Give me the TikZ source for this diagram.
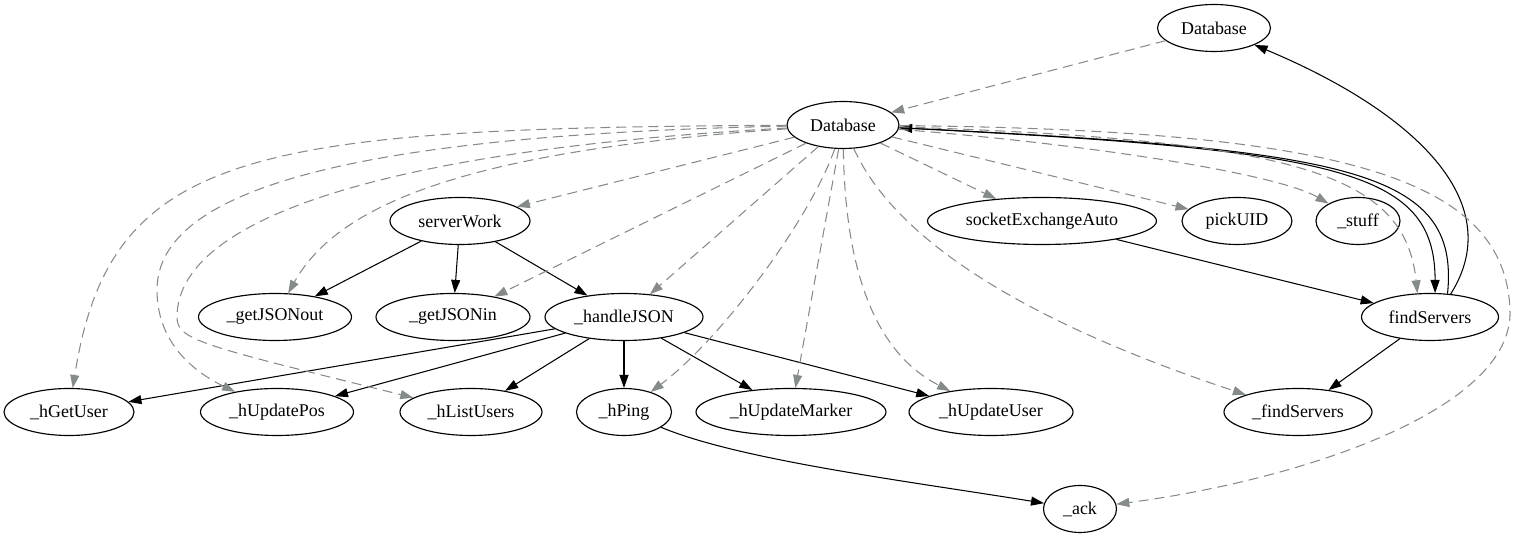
\documentclass[tikz,border=0pt]{standalone}
\usepackage{fontspec}
\setmainfont{Liberation Serif}
\usetikzlibrary{arrows.meta,shapes.geometric}
\definecolor{depgray}{HTML}{858B8B}

\begin{document}
\begin{tikzpicture}[>={Triangle[length=0.26cm,width=0.18cm]},
  font=\fontsize{10.2}{12}\selectfont,
  fn/.style={draw, ellipse, line width=0.65pt, inner sep=0pt,
    minimum height=0.94cm, minimum width=#1},
  call/.style={->, line width=0.6pt},
  dep/.style={->, line width=0.6pt, depgray, dash pattern=on 0.2cm off 0.12cm}]

  \useasboundingbox (0,0) rectangle (30.38,-10.78);

  % ---- databases ----
  \node[fn=2.26cm] (dbtop) at (24.28,-0.56) {Database};
  \node[fn=2.24cm] (db) at (16.86,-2.50) {Database};

  % ---- second row ----
  \node[fn=2.80cm] (srv) at (9.20,-4.42) {serverWork};
  \node[fn=4.58cm] (sock) at (20.84,-4.42) {socketExchangeAuto};
  \node[fn=2.20cm] (uid) at (24.74,-4.42) {pickUID};
  \node[fn=1.68cm] (stuff) at (27.16,-4.42) {\_stuff};

  % ---- third row ----
  \node[fn=3.06cm] (jout) at (5.50,-6.34) {\_getJSONout};
  \node[fn=3.08cm] (jin) at (9.06,-6.34) {\_getJSONin};
  \node[fn=3.16cm] (hjson) at (12.48,-6.34) {\_handleJSON};
  \node[fn=2.74cm] (find) at (28.60,-6.34) {findServers};

  % ---- handlers ----
  \node[fn=2.60cm] (hget) at (1.38,-8.24) {\_hGetUser};
  \node[fn=3.06cm] (hpos) at (5.54,-8.24) {\_hUpdatePos};
  \node[fn=2.84cm] (hlist) at (9.42,-8.24) {\_hListUsers};
  \node[fn=1.90cm] (hping) at (12.48,-8.24) {\_hPing};
  \node[fn=3.80cm] (hmark) at (15.82,-8.24) {\_hUpdateMarker};
  \node[fn=3.28cm] (huser) at (19.82,-8.24) {\_hUpdateUser};
  \node[fn=2.96cm] (hfind) at (25.96,-8.24) {\_findServers};
  \node[fn=1.46cm] (ack) at (21.60,-10.18) {\_ack};

  % ---- calls ----
  \draw[call] (srv) -- (jout);
  \draw[call] (srv) -- (jin);
  \draw[call] (srv) -- (hjson);
  \draw[call] (hjson) -- (hget);
  \draw[call] (hjson) -- (hpos);
  \draw[call] (hjson) -- (hlist);
  \draw[call] (hjson) -- (hping);
  \draw[call] (hjson) -- (hmark);
  \draw[call] (hjson) -- (huser);
  \draw[call] (hping) .. controls (14.8,-9.2) and (18.0,-9.6) .. (ack);
  \draw[call] (sock) -- (find);
  \draw[call] (find) -- (hfind);
  \draw[call] (db) .. controls (26.8,-3.0) and (28.7,-3.4) .. (find.78);
  \draw[call] (find.53) .. controls (29.2,-3.4) and (27.0,-3.0) .. (db);
  \draw[call] (find.48) .. controls (30.2,-4.0) and (28.2,-2.2) .. (dbtop);

  % ---- database links (dashed) ----
  \draw[dep] (dbtop) -- (db);
  \draw[dep] (db) -- (srv);
  \draw[dep] (db) .. controls (9.6,-3.0) and (6.8,-4.0) .. (jout);
  \draw[dep] (db) -- (jin);
  \draw[dep] (db) -- (hjson);
  \draw[dep] (db) .. controls (5.0,-2.56) and (2.2,-3.0) .. (hget);
  \draw[dep] (db) .. controls (7.0,-2.7) and (3.14,-3.8) .. (3.14,-5.8)
    .. controls (3.14,-6.8) and (3.8,-7.4) .. (hpos);
  \draw[dep] (db) .. controls (7.6,-3.0) and (3.54,-4.4) .. (3.54,-6.34)
    .. controls (3.54,-6.8) and (4.0,-6.9) .. (hlist);
  \draw[dep] (db) .. controls (16.2,-4.4) and (14.4,-6.8) .. (hping);
  \draw[dep] (db) -- (hmark);
  \draw[dep] (db) .. controls (16.9,-5.2) and (17.4,-7.0) .. (huser);
  \draw[dep] (db) .. controls (18.0,-5.0) and (21.0,-6.6) .. (hfind);
  \draw[dep] (db) -- (sock);
  \draw[dep] (db) -- (uid);
  \draw[dep] (db) .. controls (22.0,-2.9) and (25.6,-3.5) .. (stuff);
  \draw[dep] (db) .. controls (26.0,-2.8) and (28.1,-3.5) .. (find.118);
  \draw[dep] (db) .. controls (27.0,-2.6) and (30.1,-3.6) .. (30.2,-6.2)
    .. controls (30.28,-8.2) and (26.0,-9.6) .. (ack);

\end{tikzpicture}
\end{document}
